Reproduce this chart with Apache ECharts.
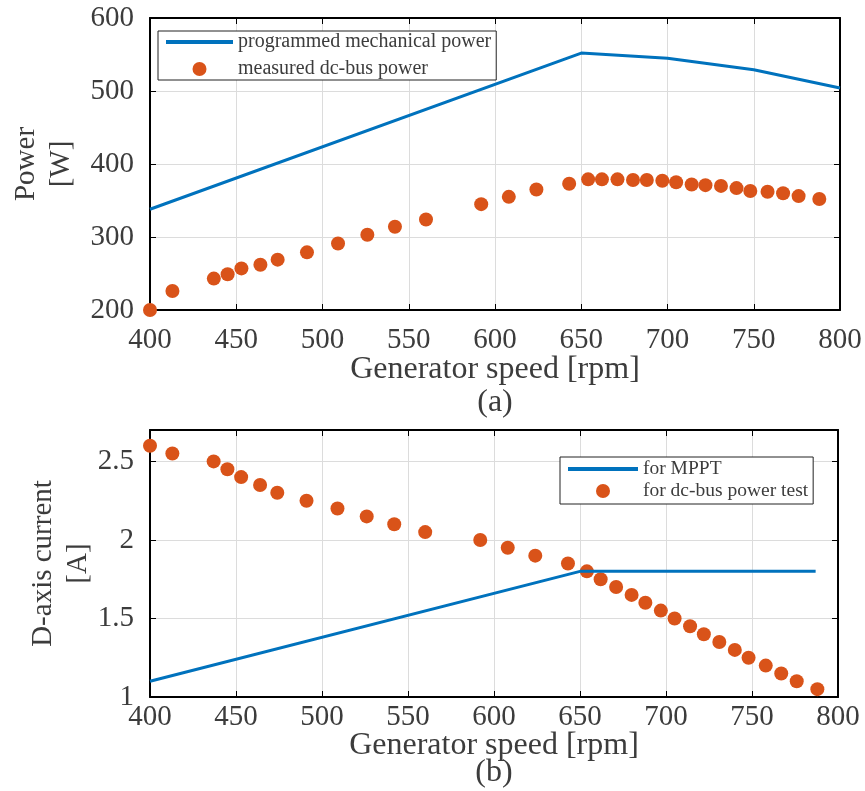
<!DOCTYPE html>
<html>
<head>
<meta charset="utf-8">
<script src="https://cdn.jsdelivr.net/npm/echarts@6/dist/echarts.min.js"></script>
<style>
  html, body { margin: 0; background: #fff; }
  #chart { width: 865px; height: 791px; }
</style>
</head>
<body>
<div id="chart"></div>
<script>
// generator speed shared by both measured sets [rpm]
var speed = [400, 413, 437, 445, 453, 464, 474, 491, 509, 526, 542, 560, 592, 608, 624, 643,
             654, 662, 671, 680, 688, 697, 705, 714, 722, 731, 740, 748, 758, 767, 776, 788];
// (a) measured dc-bus power [W]
var busPower = [200, 226, 243, 249, 257, 262, 269, 279, 291, 303, 314, 324, 345, 355, 365, 373,
                379, 379, 379, 378, 378, 377, 375, 372, 371, 370, 367, 363, 362, 360, 356, 352];
// (a) programmed mechanical power
var mechSpeed = [400, 650, 700, 750, 800];
var mechPower = [338, 552, 545, 529, 504];
// (b) d-axis current for dc-bus power test [A]
var testCurrent = [2.6, 2.55, 2.5, 2.45, 2.4, 2.35, 2.3, 2.25, 2.2, 2.15, 2.1, 2.05, 2.0, 1.95, 1.9, 1.85,
                   1.8, 1.75, 1.7, 1.65, 1.6, 1.55, 1.5, 1.45, 1.4, 1.35, 1.3, 1.25, 1.2, 1.15, 1.1, 1.05];
// (b) d-axis current for MPPT
var mpptSpeed = [400, 650, 787];
var mpptCurrent = [1.1, 1.8, 1.8];

var FONT = 'Liberation Serif';
var BLUE = '#0072BD';
var ORANGE = '#D95319';
var TXT = '#3c3c3c';

function pairs(xs, ys) {
    return xs.map(function (x, i) { return [x, ys[i]]; });
}

function xAxes(gridIndex, caption, labelMargin, nameGap, lineHeight) {
    var base = {
        gridIndex: gridIndex, type: 'value', min: 400, max: 800, interval: 50,
        axisLine: { show: true, lineStyle: { color: '#000', width: 2 } },
        axisTick: { show: true, inside: true, length: 6, lineStyle: { color: '#000', width: 1 } },
        splitLine: { show: true, lineStyle: { color: '#dcdcdc', width: 1 } }
    };
    var bottom = Object.assign({}, base, {
        position: 'bottom',
        axisLabel: { color: TXT, fontFamily: FONT, fontSize: 29, margin: labelMargin },
        name: 'Generator speed [rpm]\n' + caption,
        nameLocation: 'middle', nameGap: nameGap, nameMoveOverlap: false,
        nameTextStyle: { color: TXT, fontFamily: FONT, fontSize: 32, lineHeight: lineHeight }
    });
    var top = Object.assign({}, base, {
        position: 'top', axisLabel: { show: false }, splitLine: { show: false }
    });
    return [bottom, top];
}

function yAxes(gridIndex, min, max, interval, name, gap, fmt) {
    var base = {
        gridIndex: gridIndex, type: 'value', min: min, max: max, interval: interval,
        axisLine: { show: true, lineStyle: { color: '#000', width: 2 } },
        axisTick: { show: true, inside: true, length: 6, lineStyle: { color: '#000', width: 1 } },
        splitLine: { show: true, lineStyle: { color: '#dcdcdc', width: 1 } }
    };
    var left = Object.assign({}, base, {
        position: 'left',
        axisLabel: { color: TXT, fontFamily: FONT, fontSize: 29, margin: 16, formatter: fmt },
        name: name, nameLocation: 'middle', nameGap: gap, nameRotate: 90, nameMoveOverlap: false,
        nameTextStyle: { color: TXT, fontFamily: FONT, fontSize: 29, lineHeight: 35 }
    });
    var right = Object.assign({}, base, {
        position: 'right', axisLabel: { show: false }, splitLine: { show: false }
    });
    return [left, right];
}

// legend entry for a line series: keep the stroke, hide the marker dot
function lineEntry(name) {
    return { name: name, itemStyle: { opacity: 0 }, lineStyle: { width: 4 } };
}

var chart = echarts.init(document.getElementById('chart'));

var option = {
    backgroundColor: '#fff',
    animation: false,
    grid: [
        { left: 150, right: 25, top: 18, height: 292, outerBoundsMode: 'none' },
        { left: 150, right: 27, top: 430, height: 267, outerBoundsMode: 'none' }
    ],
    xAxis: xAxes(0, '(a)', 16, 43, 33).concat(xAxes(1, '(b)', 6, 35, 27)),
    yAxis: yAxes(0, 200, 600, 100, 'Power\n[W]', 71).concat(
        yAxes(1, 1, 2.7, 0.5, 'D-axis current\n[A]', 54, function (v) {
            return v > 2.6 ? '' : String(v);
        })
    ),
    legend: [
        {
            left: 158, top: 31, orient: 'vertical', itemGap: 7,
            itemWidth: 67, itemHeight: 14,
            padding: [1, 5, 1, 6],
            borderColor: '#222', borderWidth: 1, backgroundColor: '#fff',
            textStyle: { color: TXT, fontFamily: FONT, fontSize: 20, lineHeight: 18 },
            data: [lineEntry('programmed mechanical power'), 'measured dc-bus power']
        },
        {
            left: 560, top: 457, orient: 'vertical', itemGap: 2,
            itemWidth: 70, itemHeight: 14,
            padding: [2, 5, 3, 6],
            borderColor: '#222', borderWidth: 1, backgroundColor: '#fff',
            textStyle: { color: TXT, fontFamily: FONT, fontSize: 19.5, lineHeight: 18 },
            data: [lineEntry('for MPPT'), 'for dc-bus power test']
        }
    ],
    series: [
        {
            name: 'programmed mechanical power', type: 'line',
            xAxisIndex: 0, yAxisIndex: 0, symbol: 'none',
            lineStyle: { color: BLUE, width: 3 }, itemStyle: { color: BLUE },
            data: pairs(mechSpeed, mechPower)
        },
        {
            name: 'measured dc-bus power', type: 'scatter',
            xAxisIndex: 0, yAxisIndex: 0, symbolSize: 14,
            itemStyle: { color: ORANGE, opacity: 1 },
            data: pairs(speed, busPower)
        },
        {
            name: 'for MPPT', type: 'line',
            xAxisIndex: 2, yAxisIndex: 2, symbol: 'none',
            lineStyle: { color: BLUE, width: 3 }, itemStyle: { color: BLUE },
            data: pairs(mpptSpeed, mpptCurrent)
        },
        {
            name: 'for dc-bus power test', type: 'scatter',
            xAxisIndex: 2, yAxisIndex: 2, symbolSize: 14,
            itemStyle: { color: ORANGE, opacity: 1 },
            data: pairs(speed, testCurrent)
        }
    ]
};

chart.setOption(option);
</script>
</body>
</html>
